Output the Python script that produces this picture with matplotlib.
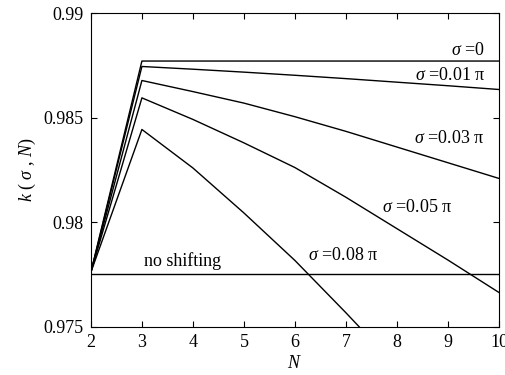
import matplotlib
matplotlib.use("Agg")
import matplotlib.pyplot as plt

plt.rcParams['font.family'] = ['Liberation Serif', 'DejaVu Serif']
plt.rcParams['mathtext.fontset'] = 'custom'
plt.rcParams['mathtext.rm'] = 'Liberation Serif'
plt.rcParams['mathtext.it'] = 'Liberation Serif:italic'

# values
N = [2, 3, 4, 5, 6, 7, 8, 9, 10]
k_s0 = [0.97762, 0.98771, 0.98771, 0.98771, 0.98771, 0.98771, 0.98771, 0.98771, 0.98771]
k_s001 = [0.97762, 0.98745, 0.98732, 0.98718, 0.98703, 0.98687, 0.98670, 0.98653, 0.98635]
k_s003 = [0.97762, 0.98678, 0.98625, 0.98570, 0.98505, 0.98435, 0.98360, 0.98285, 0.98210]
k_s005 = [0.97762, 0.98595, 0.98492, 0.98380, 0.98262, 0.98120, 0.97970, 0.97820, 0.97665]
k_s008 = [0.97762, 0.98444, 0.98260, 0.98045, 0.97818, 0.97568, 0.97310, 0.97050, 0.96780]
k_noshift = 0.97751

curve_labels = [r'$\sigma$ =0', r'$\sigma$ =0.01 π', r'$\sigma$ =0.03 π',
                r'$\sigma$ =0.05 π', r'$\sigma$ =0.08 π']

fig = plt.figure(figsize=(5.05, 3.75), dpi=100)
ax = fig.add_axes([0.180, 0.128, 0.808, 0.837])

for k in [k_s0, k_s001, k_s003, k_s005, k_s008]:
    ax.plot(N, k, color='black', lw=1.0)
ax.axhline(k_noshift, color='black', lw=1.0)

# curve labels (data coords)
ax.text(9.73, 0.98823, curve_labels[0], ha='right', va='center', fontsize=13)
ax.text(9.73, 0.98704, curve_labels[1], ha='right', va='center', fontsize=13)
ax.text(9.71, 0.98403, curve_labels[2], ha='right', va='center', fontsize=13)
ax.text(9.08, 0.98073, curve_labels[3], ha='right', va='center', fontsize=13)
ax.text(7.63, 0.97844, curve_labels[4], ha='right', va='center', fontsize=13)
ax.text(3.80, 0.97815, 'no shifting', ha='center', va='center', fontsize=13)

ax.set_xlim(2, 10)
ax.set_ylim(0.975, 0.99)
ax.set_xticks(range(2, 11))
ax.set_yticks([0.975, 0.98, 0.985, 0.99])
ax.set_yticklabels(['0.975', '0.98', '0.985', '0.99'])
ax.tick_params(direction='in', top=True, right=True, length=4, labelsize=13, pad=5)

ax.set_xlabel(r'$N$', fontsize=13, labelpad=3)
ax.set_ylabel(r'$k$ ( $\sigma$ , $N$)', fontsize=13, labelpad=4)

fig.savefig('out.png', dpi=100)
